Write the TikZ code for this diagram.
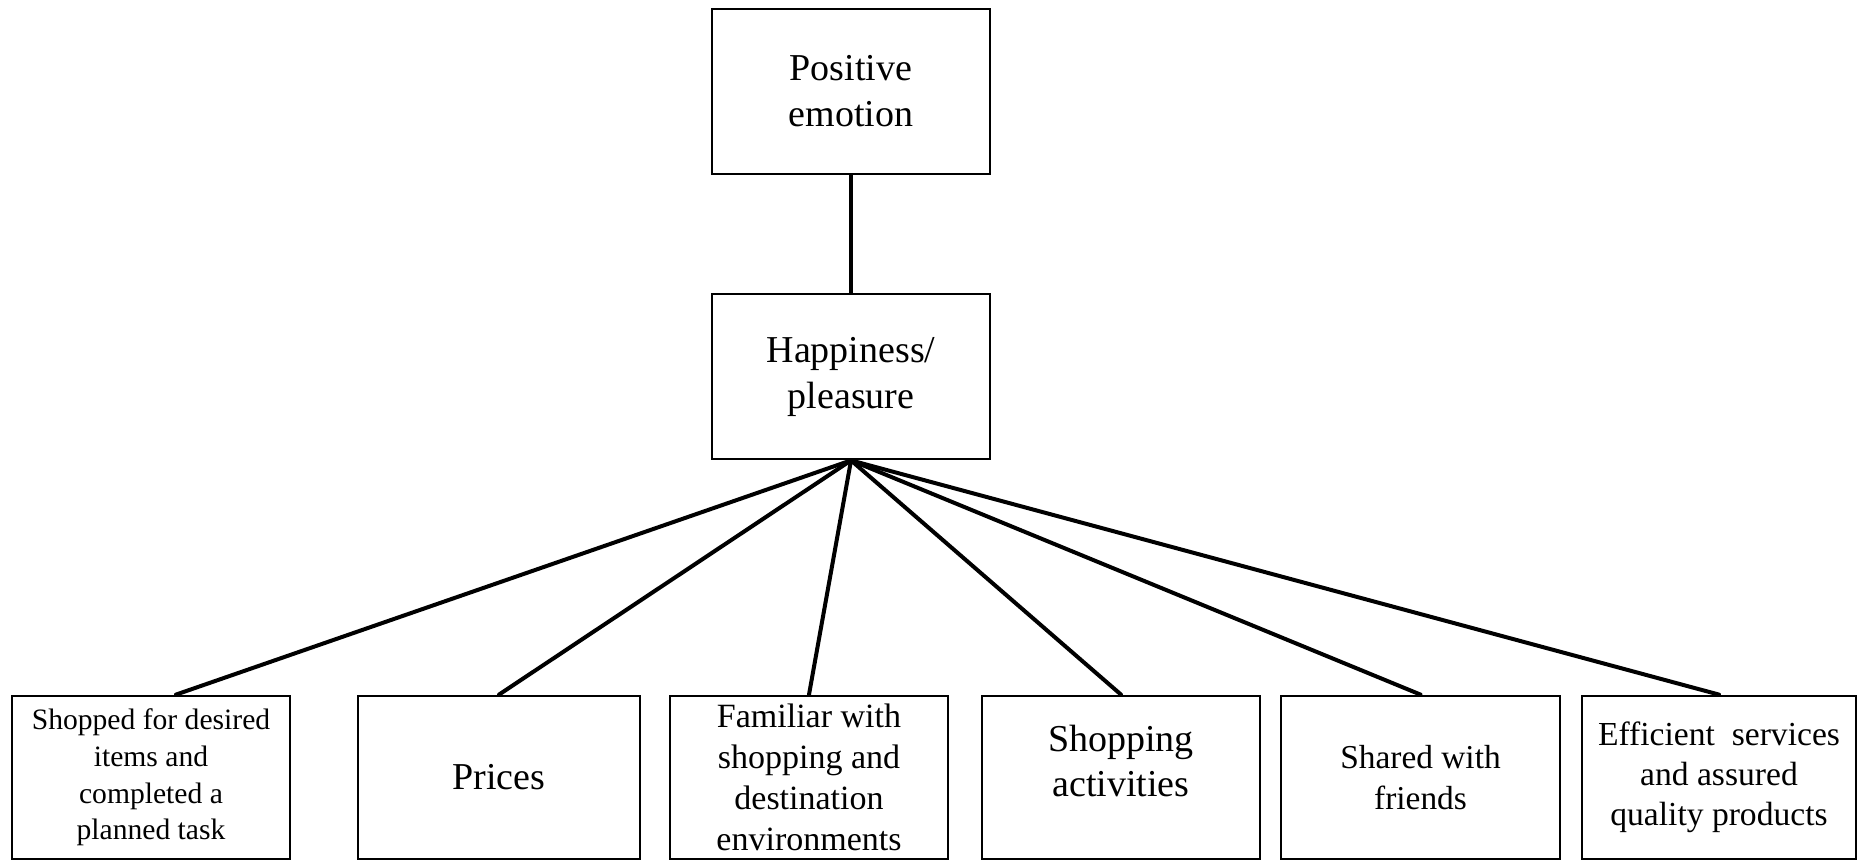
\documentclass[tikz,border=0pt]{standalone}
\usepackage{fontspec}
\setmainfont{Liberation Serif}
\begin{document}
\begin{tikzpicture}[x=0.5pt,y=-0.5pt,
  box/.style={draw=black, line width=1.4pt, fill=white, rectangle, inner sep=0pt, align=center, minimum height=81.5pt},
  topbox/.style={box, minimum width=139pt, minimum height=82.5pt, font=\fontsize{19}{23}\selectfont},
  conn/.style={line width=2pt, line cap=round}]
\useasboundingbox (0,0) rectangle (1858,861);

% upper chain
\node[topbox] (pe) at (851,91.5) {Positive\\emotion};
\node[topbox] (hp) at (851,376.5) {Happiness/\\pleasure};

% lower row of factors
\node[box, minimum width=139pt, font=\fontsize{14.8}{18.4}\selectfont] (b1) at (151,777.5)
  {Shopped for desired\\items and\\completed a\\planned task};
\node[box, minimum width=141pt, font=\fontsize{19}{23}\selectfont] (b2) at (499,777.5) {Prices};
\node[box, minimum width=139pt, font=\fontsize{17}{20.5}\selectfont] (b3) at (809,777.5)
  {Familiar with\\shopping and\\destination\\environments};
\node[box, minimum width=139pt,
  label={[align=center, font=\fontsize{19}{22.5}\selectfont, yshift=8.2pt]center:{Shopping\\activities}}] (b4) at (1121,777.5) {};
\node[box, minimum width=139.5pt, font=\fontsize{16.7}{20.7}\selectfont] (b5) at (1420.5,777.5) {Shared with\\friends};
\node[box, minimum width=137pt, font=\fontsize{16.8}{20}\selectfont] (b6) at (1719,777.5)
  {Efficient\ \ services\\and assured\\quality products};

% connectors
\draw[conn] (pe.south) -- (hp.north);
\draw[conn] (hp.south) -- ([xshift=12.5pt]b1.north);
\foreach \b in {b2,b3,b4,b5,b6}
  \draw[conn] (hp.south) -- (\b.north);
\end{tikzpicture}
\end{document}
